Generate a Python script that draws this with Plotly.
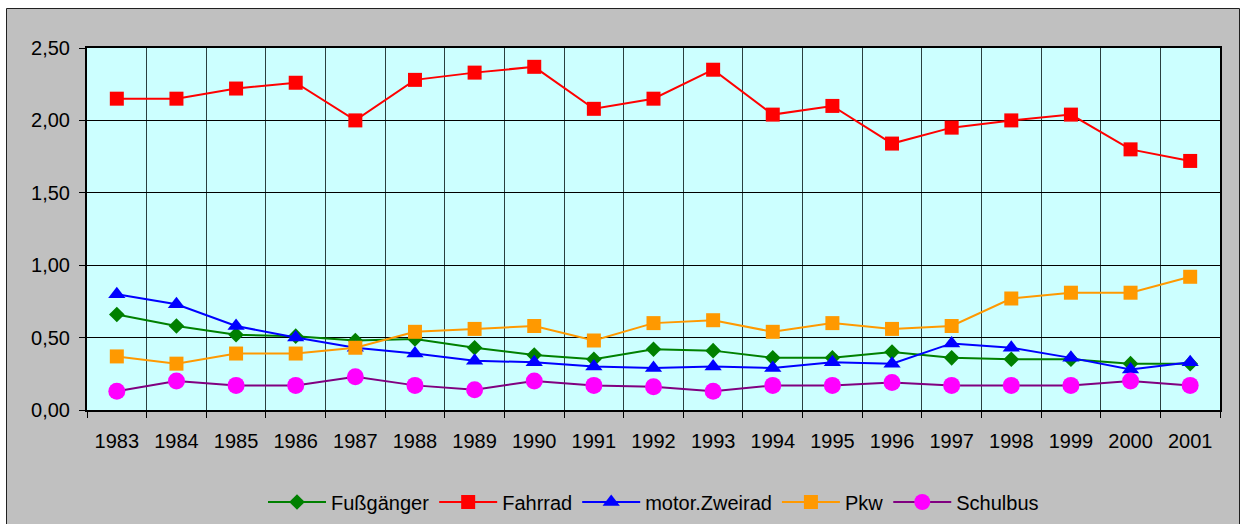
import plotly.graph_objects as go

years = [str(y) for y in range(1983, 2002)]

fussgaenger = [0.66, 0.58, 0.52, 0.51, 0.48, 0.49, 0.43, 0.38, 0.35, 0.42, 0.41, 0.36, 0.36, 0.40, 0.36, 0.35, 0.35, 0.32, 0.32]
fahrrad = [2.15, 2.15, 2.22, 2.26, 2.00, 2.28, 2.33, 2.37, 2.08, 2.15, 2.35, 2.04, 2.10, 1.84, 1.95, 2.00, 2.04, 1.80, 1.72]
zweirad = [0.80, 0.73, 0.58, 0.50, 0.43, 0.39, 0.34, 0.33, 0.30, 0.29, 0.30, 0.29, 0.33, 0.32, 0.46, 0.43, 0.36, 0.28, 0.33]
pkw = [0.37, 0.32, 0.39, 0.39, 0.43, 0.54, 0.56, 0.58, 0.48, 0.60, 0.62, 0.54, 0.60, 0.56, 0.58, 0.77, 0.81, 0.81, 0.92]
schulbus = [0.13, 0.20, 0.17, 0.17, 0.23, 0.17, 0.14, 0.20, 0.17, 0.16, 0.13, 0.17, 0.17, 0.19, 0.17, 0.17, 0.17, 0.20, 0.17]

y_ticks = [0, 0.5, 1.0, 1.5, 2.0, 2.5]

FONT = "Liberation Sans, Arial, sans-serif"

series = [
    ("Fußgänger", fussgaenger, "#008000", "#008000", "diamond", 12),
    ("Fahrrad", fahrrad, "#FF0000", "#FF0000", "square", 14),
    ("motor.Zweirad", zweirad, "#0000FF", "#0000FF", "triangle-up", 15),
    ("Pkw", pkw, "#FF9900", "#FF9900", "square", 14),
    ("Schulbus", schulbus, "#800080", "#FF00FF", "circle", 17),
]

fig = go.Figure()
for name, vals, lc, mc, sym, sz in series:
    fig.add_trace(go.Scatter(
        x=years, y=vals, name=name, mode="lines+markers",
        line=dict(color=lc, width=2),
        marker=dict(color=mc, symbol=sym, size=sz, line=dict(width=0)),
    ))

W, H = 1240, 524
L, R, T, B = 87, 20, 48, 114
pw = W - L - R
ph = H - T - B

def px_x(x):
    return (x - L) / pw

def px_y(y):
    return (H - B - y) / ph

fig.update_layout(
    width=W, height=H,
    margin=dict(l=L, r=R, t=T, b=B, pad=0, autoexpand=False),
    paper_bgcolor="white",
    plot_bgcolor="rgba(0,0,0,0)",
    separators=",.",
    font=dict(family=FONT, size=20, color="black"),
    showlegend=True,
    legend=dict(
        orientation="h", x=0.5, xanchor="center",
        y=px_y(502), yanchor="middle",
        font=dict(family=FONT, size=20, color="black"),
        bgcolor="rgba(0,0,0,0)",
        itemwidth=58, tracegroupgap=0,
    ),
    shapes=[
        dict(type="rect", xref="paper", yref="paper",
             x0=px_x(6.5), x1=px_x(1239.5), y0=px_y(560), y1=px_y(8.5),
             fillcolor="#C0C0C0", line=dict(color="#202020", width=1), layer="below"),
        dict(type="rect", xref="paper", yref="paper",
             x0=0, x1=1, y0=0, y1=1,
             fillcolor="#CCFFFF", line=dict(width=0), layer="below"),
    ],
    xaxis=dict(
        type="category", tickson="boundaries", automargin=False,
        showgrid=True, gridcolor="#2a4040", gridwidth=1,
        ticks="outside", ticklen=6, tickcolor="black", tickwidth=1,
        showline=True, linecolor="black", linewidth=2, mirror=True,
        ticklabelstandoff=12,
        tickfont=dict(family=FONT, size=20, color="black"),
        range=[-0.5, len(years) - 0.5],
        zeroline=False,
    ),
    yaxis=dict(
        range=[0, 2.5], tickvals=y_ticks, tickformat=".2f", automargin=False,
        showgrid=True, gridcolor="black", gridwidth=1,
        ticks="outside", ticklen=6, tickcolor="black", tickwidth=1,
        showline=True, linecolor="black", linewidth=2, mirror=True,
        ticklabelstandoff=5,
        tickfont=dict(family=FONT, size=20, color="black"),
        zeroline=False,
    ),
)

fig.write_html(
    "out.html",
    config={"displayModeBar": False},
    post_script="document.body.style.margin='0';document.body.style.padding='0';",
)
